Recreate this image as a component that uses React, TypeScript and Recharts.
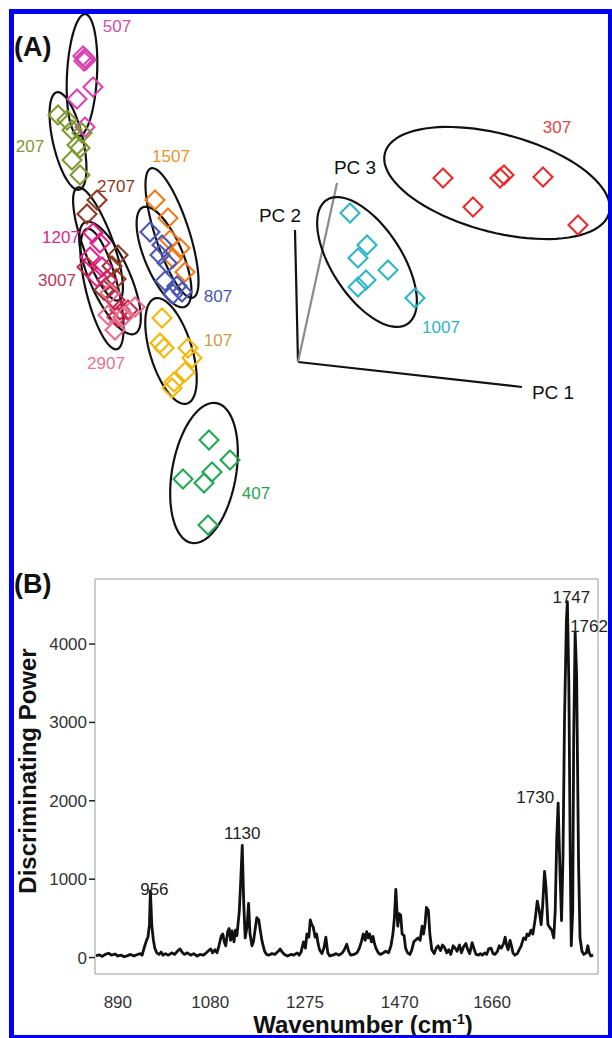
import React from 'react';
import {
  ScatterChart,
  Scatter,
  LineChart,
  Line,
  XAxis,
  YAxis,
  ReferenceLine,
  ReferenceDot,
  Label,
} from 'recharts';

const FONT = '"Liberation Sans", Arial, Helvetica, sans-serif';

// ---------- panel A: PCA scores (plot units, y grows downward) ----------
const scores507 = [[83, 56], [85, 58], [84, 61], [86, 60], [93, 87], [77, 99], [85, 127]];
const scores207 = [[58, 115], [67, 120], [72, 130], [82, 133], [77, 145], [80, 148], [72, 160], [80, 175]];
const scores2707 = [[97, 200], [87, 214], [118, 255], [112, 266], [116, 279], [104, 290]];
const scores1207 = [[93, 233], [100, 243], [90, 257], [102, 267], [97, 277]];
const scores3007 = [[87, 267], [107, 280], [115, 300], [120, 310], [128, 310], [117, 317]];
const scores2907 = [[110, 293], [135, 307], [108, 315], [115, 330], [123, 317]];
const scores1507 = [[155, 200], [168, 218], [170, 240], [180, 248], [173, 258], [185, 272]];
const scores807 = [[150, 232], [162, 245], [160, 255], [167, 263], [165, 281], [173, 294], [182, 292], [177, 286]];
const scores107 = [[162, 318], [160, 343], [164, 348], [188, 348], [192, 358], [185, 372], [174, 382], [172, 388]];
const scores407 = [[209, 440], [230, 460], [212, 472], [183, 479], [204, 483], [208, 525]];
const scores1007 = [[350, 213], [367, 245], [358, 258], [388, 270], [366, 280], [358, 287], [415, 298]];
const scores307 = [[443, 178], [473, 207], [500, 178], [504, 175], [543, 177], [578, 225]];

// confidence ellipses: centre, semi-axes, tilt (deg)
const ellipses = [
  { cx: 82, cy: 75, a: 61, b: 15, angle: 93 },
  { cx: 68, cy: 141, a: 50, b: 15, angle: 77 },
  { cx: 98, cy: 244, a: 60, b: 15, angle: 70 },
  { cx: 110, cy: 278, a: 61, b: 20, angle: 66 },
  { cx: 102, cy: 289, a: 62, b: 16, angle: 76 },
  { cx: 172, cy: 233, a: 68, b: 17, angle: 72 },
  { cx: 164, cy: 257, a: 54, b: 19, angle: 67 },
  { cx: 171, cy: 351, a: 55, b: 21, angle: 73 },
  { cx: 204, cy: 473, a: 71, b: 32, angle: 100 },
  { cx: 367, cy: 262, a: 74, b: 35, angle: 57 },
  { cx: 497, cy: 183, a: 116, b: 49, angle: 15 },
];

const groupLabels = [
  { name: '507', x: 117, y: 26 },
  { name: '207', x: 30, y: 146 },
  { name: '2707', x: 116, y: 186 },
  { name: '1207', x: 61, y: 237 },
  { name: '3007', x: 57, y: 280 },
  { name: '2907', x: 106, y: 363 },
  { name: '1507', x: 171, y: 156 },
  { name: '807', x: 218, y: 296 },
  { name: '107', x: 218, y: 340 },
  { name: '407', x: 256, y: 493 },
  { name: '1007', x: 441, y: 327 },
  { name: '307', x: 557, y: 127 },
];

const pcOrigin = { x: 298, y: 362 };
const pcEnds = [
  { name: 'PC 1', x: 522, y: 387, lx: 553, ly: 392 },
  { name: 'PC 2', x: 295, y: 230, lx: 280, ly: 215 },
  { name: 'PC 3', x: 337, y: 183, lx: 355, ly: 167 },
];

const groupStyle: Record<string, { mark: string; text: string }> = {
  '507': { mark: '#d842b2', text: '#cf4fae' },
  '207': { mark: '#7f9832', text: '#7f9832' },
  '2707': { mark: '#8c3a24', text: '#8c3a24' },
  '1207': { mark: '#e2208a', text: '#d8288a' },
  '3007': { mark: '#c8254e', text: '#b53b58' },
  '2907': { mark: '#ea6a8c', text: '#e87392' },
  '1507': { mark: '#f07a1a', text: '#ee9230' },
  '807': { mark: '#4a55b5', text: '#4a55b5' },
  '107': { mark: '#f2b705', text: '#c9a04a' },
  '407': { mark: '#1fa84f', text: '#1fa84f' },
  '1007': { mark: '#2cb4c8', text: '#2cb4c8' },
  '307': { mark: '#e8292c', text: '#e04545' },
};

const groups: [string, number[][]][] = [
  ['507', scores507],
  ['207', scores207],
  ['2707', scores2707],
  ['1207', scores1207],
  ['3007', scores3007],
  ['2907', scores2907],
  ['1507', scores1507],
  ['807', scores807],
  ['107', scores107],
  ['407', scores407],
  ['1007', scores1007],
  ['307', scores307],
];

// ---------- panel B: discriminating power vs. position on the drawn wavenumber axis ----------
const spectrum: [number, number][] = [
  [845, 20], [851, 35], [858, 15], [864, 40], [871, 55], [877, 30], [884, 45], [890, 20], [897, 30],
  [903, 10], [910, 25], [916, 40], [923, 20], [929, 35], [936, 50], [940, 30], [944, 120], [949, 220],
  [952, 260], [955, 420], [957, 850], [960, 400], [963, 230], [966, 120], [970, 60], [975, 40], [979, 70],
  [983, 30], [988, 50], [994, 30], [1001, 60], [1007, 40], [1014, 90], [1018, 110], [1022, 70], [1027, 40],
  [1033, 60], [1040, 30], [1046, 50], [1053, 20], [1059, 40], [1066, 30], [1072, 60], [1077, 90],
  [1081, 110], [1085, 60], [1090, 100], [1094, 60], [1098, 150], [1103, 280], [1106, 300], [1109, 200],
  [1112, 150], [1116, 330], [1119, 370], [1122, 220], [1125, 340], [1129, 200], [1132, 350], [1135, 280],
  [1140, 600], [1143, 1000], [1146, 1430], [1149, 700], [1152, 250], [1156, 400], [1159, 690], [1162, 300],
  [1166, 150], [1169, 200], [1173, 380], [1176, 510], [1180, 480], [1183, 350], [1187, 200], [1192, 80],
  [1196, 40], [1200, 30], [1207, 50], [1213, 40], [1220, 80], [1224, 110], [1228, 70], [1233, 40],
  [1239, 20], [1246, 40], [1252, 30], [1259, 60], [1263, 30], [1267, 70], [1272, 200], [1276, 120],
  [1279, 300], [1283, 260], [1286, 480], [1289, 420], [1292, 390], [1296, 260], [1299, 300], [1302, 180],
  [1305, 100], [1310, 50], [1314, 120], [1318, 260], [1322, 60], [1326, 20], [1332, 30], [1339, 50],
  [1345, 30], [1352, 60], [1356, 100], [1361, 170], [1365, 80], [1369, 30], [1376, 40], [1382, 60],
  [1387, 120], [1391, 200], [1395, 300], [1399, 220], [1402, 330], [1405, 250], [1408, 300], [1412, 200],
  [1415, 270], [1418, 180], [1421, 120], [1426, 60], [1430, 40], [1434, 50], [1441, 80], [1447, 60],
  [1452, 150], [1456, 300], [1459, 500], [1462, 870], [1466, 400], [1469, 560], [1472, 540], [1475, 300],
  [1479, 280], [1482, 120], [1486, 60], [1491, 40], [1495, 100], [1499, 200], [1504, 230], [1508, 250],
  [1512, 220], [1516, 400], [1519, 300], [1522, 420], [1525, 640], [1529, 600], [1532, 300], [1536, 100],
  [1541, 50], [1545, 120], [1549, 150], [1554, 90], [1558, 160], [1562, 130], [1567, 60], [1571, 100],
  [1575, 40], [1580, 150], [1584, 120], [1588, 80], [1593, 160], [1597, 60], [1601, 130], [1606, 180],
  [1610, 100], [1614, 50], [1619, 190], [1623, 110], [1627, 40], [1632, 30], [1636, 50], [1640, 30],
  [1645, 60], [1649, 40], [1653, 110], [1658, 120], [1662, 50], [1666, 40], [1671, 80], [1675, 150],
  [1679, 120], [1684, 180], [1687, 260], [1690, 160], [1693, 100], [1697, 220], [1700, 150], [1703, 60],
  [1707, 30], [1712, 50], [1716, 100], [1720, 150], [1725, 250], [1729, 230], [1732, 300], [1736, 280],
  [1740, 350], [1744, 300], [1749, 500], [1753, 720], [1757, 600], [1761, 420], [1764, 650], [1768, 1100],
  [1771, 900], [1775, 420], [1779, 380], [1783, 350], [1787, 250], [1790, 600], [1793, 1500], [1796, 1970],
  [1800, 1050], [1803, 470], [1806, 1300], [1809, 3000], [1813, 4300], [1815, 4540], [1818, 3500],
  [1821, 1200], [1823, 150], [1826, 600], [1828, 2800], [1831, 4150], [1834, 3600], [1838, 1200],
  [1841, 250], [1845, 80], [1849, 40], [1854, 60], [1857, 150], [1860, 60], [1863, 20], [1868, 30],
];

const wavenumberTicks = [890, 1080, 1275, 1470, 1660];
const powerTicks = [0, 1000, 2000, 3000, 4000];

// peak annotations: where the peak sits on the axis, its height, and the printed label
const peaks = [
  { at: 957, v: 850, text: '956' },
  { at: 1146, v: 1430, text: '1130' },
  { at: 1796, v: 1970, text: '1730' },
  { at: 1815, v: 4540, text: '1747' },
  { at: 1831, v: 4150, text: '1762' },
];
const peakLabelPlace: Record<string, { dx: number; dy: number; anchor: 'start' | 'middle' | 'end' }> = {
  '956': { dx: 4, dy: 4, anchor: 'middle' },
  '1130': { dx: 0, dy: -6, anchor: 'middle' },
  '1730': { dx: -4, dy: 0, anchor: 'end' },
  '1747': { dx: 4, dy: 1, anchor: 'middle' },
  '1762': { dx: -5, dy: 0, anchor: 'start' },
};

const W_DOMAIN: [number, number] = [843, 1878];
const P_DOMAIN: [number, number] = [-210, 4830];

function ellipsePoints(e: { cx: number; cy: number; a: number; b: number; angle: number }) {
  const th = (e.angle * Math.PI) / 180;
  const pts = [];
  for (let i = 0; i <= 90; i++) {
    const t = (i / 90) * Math.PI * 2;
    pts.push({
      x: e.cx + e.a * Math.cos(t) * Math.cos(th) - e.b * Math.sin(t) * Math.sin(th),
      y: e.cy + e.a * Math.cos(t) * Math.sin(th) + e.b * Math.sin(t) * Math.cos(th),
    });
  }
  return pts;
}

const makeDiamond = (color: string) => (props: any) => {
  const { cx, cy } = props;
  const r = 9.5;
  return (
    <path
      d={`M${cx},${cy - r}L${cx + r},${cy}L${cx},${cy + r}L${cx - r},${cy}Z`}
      fill="none"
      stroke={color}
      strokeWidth={2.1}
    />
  );
};

function PanelA() {
  return (
    <ScatterChart width={612} height={560} margin={{ top: 0, right: 0, bottom: 0, left: 0 }}>
      <XAxis type="number" dataKey="x" domain={[0, 612]} allowDataOverflow hide />
      <YAxis type="number" dataKey="y" domain={[0, 560]} allowDataOverflow reversed hide />
      {ellipses.map((e, i) => (
        <Scatter
          key={`ell-${i}`}
          data={ellipsePoints(e)}
          line={{ stroke: '#111', strokeWidth: 2.2 }}
          lineType="joint"
          shape={() => <g />}
          isAnimationActive={false}
        />
      ))}
      {groups.map(([name, pts]) => (
        <Scatter
          key={name}
          name={name}
          data={pts.map(([x, y]) => ({ x, y }))}
          shape={makeDiamond(groupStyle[name].mark)}
          isAnimationActive={false}
        />
      ))}
      {pcEnds.map((p) => (
        <ReferenceLine
          key={p.name}
          segment={[pcOrigin, { x: p.x, y: p.y }]}
          stroke={p.name === 'PC 3' ? '#8a8a8a' : '#111'}
          strokeWidth={2.2}
        />
      ))}
      {pcEnds.map((p) => (
        <ReferenceDot
          key={`l-${p.name}`}
          x={p.lx}
          y={p.ly}
          r={0}
          stroke="none"
          label={{ value: p.name, position: 'center', fill: '#111', fontSize: 19, fontFamily: FONT }}
        />
      ))}
      {groupLabels.map((g) => (
        <ReferenceDot
          key={`g-${g.name}`}
          x={g.x}
          y={g.y}
          r={0}
          stroke="none"
          label={{ value: g.name, position: 'center', fill: groupStyle[g.name].text, fontSize: 17, fontFamily: FONT }}
        />
      ))}
    </ScatterChart>
  );
}

function PanelB() {
  const data = spectrum.map(([w, v]) => ({ w, v }));
  return (
    <LineChart width={612} height={478} data={data} margin={{ top: 19, right: 14, bottom: 0, left: 0 }}>
      <XAxis
        type="number"
        dataKey="w"
        domain={W_DOMAIN}
        ticks={wavenumberTicks}
        allowDataOverflow
        height={64}
        tickLine={false}
        tickMargin={16}
        axisLine={{ stroke: '#9a9a9a' }}
        tick={{ fill: '#333', fontSize: 17, fontFamily: FONT }}
      >
        <Label
          content={() => (
            <text x={363} y={1033 - 560} textAnchor="middle" fontFamily={FONT} fontWeight="bold" fontSize={24} fill="#111">
              <tspan>Wavenumber (cm</tspan>
              <tspan dy={-9} fontSize={14}>-1</tspan>
              <tspan dy={9}>)</tspan>
            </text>
          )}
        />
      </XAxis>
      <YAxis
        type="number"
        domain={P_DOMAIN}
        ticks={powerTicks}
        allowDataOverflow
        width={95}
        tickSize={6}
        tickMargin={2}
        tickLine={{ stroke: '#222', strokeWidth: 1.5 }}
        axisLine={{ stroke: '#9a9a9a' }}
        tick={{ fill: '#333', fontSize: 17, fontFamily: FONT }}
      >
        <Label
          content={() => (
            <text
              x={0}
              y={0}
              transform={`translate(27, ${771 - 560}) rotate(-90)`}
              textAnchor="middle"
              dominantBaseline="central"
              fontFamily={FONT}
              fontWeight="bold"
              fontSize={24}
              fill="#111"
            >
              Discriminating Power
            </text>
          )}
        />
      </YAxis>
      <ReferenceLine y={P_DOMAIN[1]} stroke="#9a9a9a" />
      <ReferenceLine x={W_DOMAIN[1]} stroke="#9a9a9a" />
      <Line
        type="linear"
        dataKey="v"
        stroke="#111"
        strokeWidth={2.8}
        strokeLinejoin="round"
        dot={false}
        isAnimationActive={false}
      />
      {peaks.map((p) => {
        const place = peakLabelPlace[p.text];
        return (
          <ReferenceDot
            key={p.text}
            x={p.at}
            y={p.v}
            r={0}
            stroke="none"
            label={(props: any) => {
              const vb = props.viewBox || {};
              return (
                <text
                  x={(vb.x ?? 0) + place.dx}
                  y={(vb.y ?? 0) + place.dy}
                  textAnchor={place.anchor}
                  fontFamily={FONT}
                  fontSize={17}
                  fill="#222"
                >
                  {p.text}
                </text>
              );
            }}
          />
        );
      })}
    </LineChart>
  );
}

export default function App() {
  return (
    <div
      style={{
        position: 'absolute',
        left: 0,
        top: 0,
        width: 612,
        height: 1038,
        overflow: 'hidden',
        background: '#fff',
        fontFamily: FONT,
      }}
    >
      <div style={{ position: 'absolute', left: 0, top: 0 }}>
        <PanelA />
      </div>
      <div style={{ position: 'absolute', left: 0, top: 560 }}>
        <PanelB />
      </div>
      <svg width={612} height={1038} style={{ position: 'absolute', left: 0, top: 0, pointerEvents: 'none' }}>
        <text x={14} y={56} fontFamily={FONT} fontWeight="bold" fontSize={27} fill="#111">
          (A)
        </text>
        <text x={14} y={593} fontFamily={FONT} fontWeight="bold" fontSize={27} fill="#111">
          (B)
        </text>
      </svg>
      <div
        style={{
          position: 'absolute',
          left: 9,
          top: 9,
          width: 604,
          height: 1031,
          border: '5px solid #0000f5',
          boxSizing: 'border-box',
        }}
      />
    </div>
  );
}
